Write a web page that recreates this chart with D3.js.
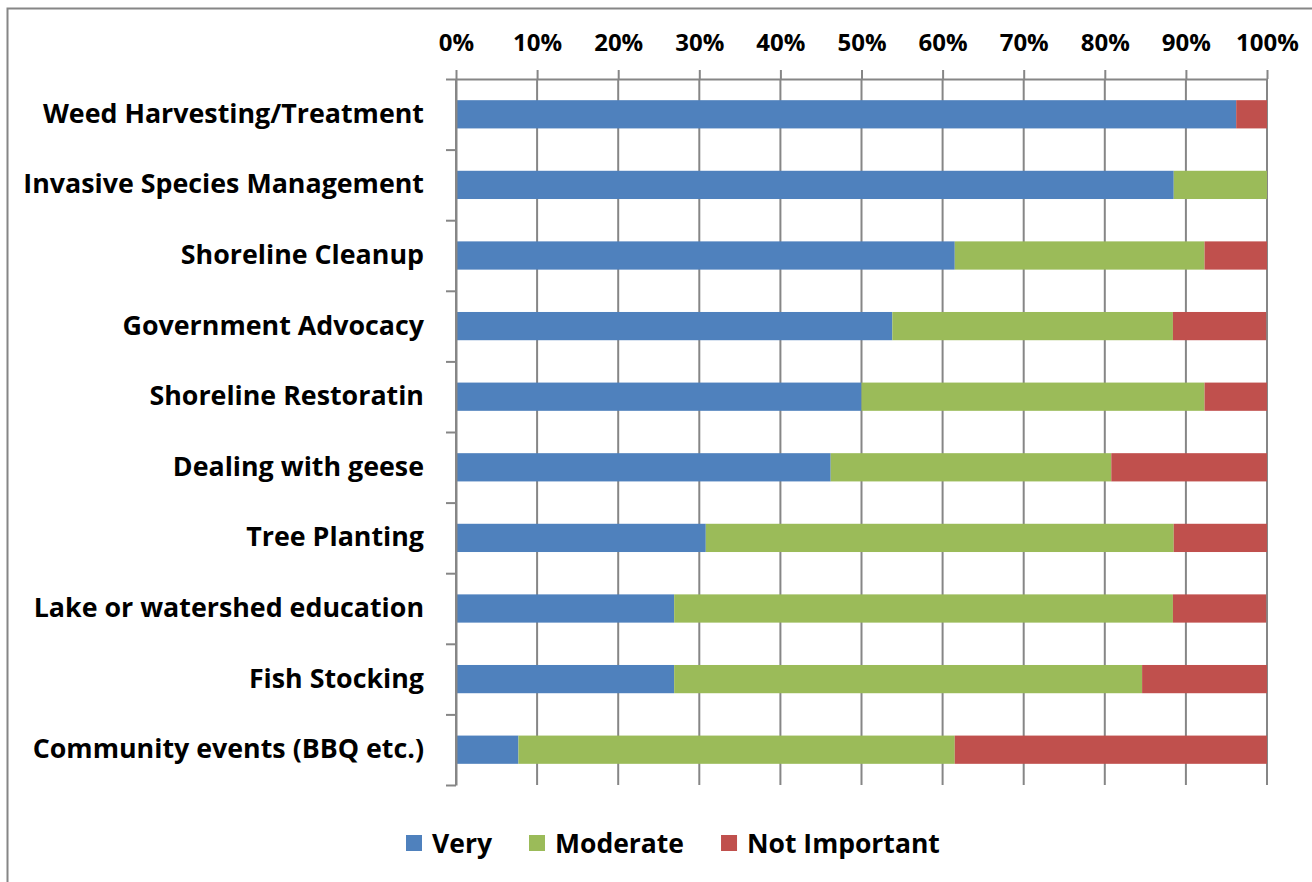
<!DOCTYPE html>
<html>
<head>
<meta charset="utf-8">
<script src="https://cdn.jsdelivr.net/npm/d3@7"></script>
<style>
  html, body { margin: 0; padding: 0; background: #fff; }
  svg { display: block; font-family: "Open Sans", Lato, sans-serif; font-weight: bold; }
</style>
</head>
<body>
<svg id="chart" width="1312" height="882"></svg>
<script>
var categories = [
  'Weed Harvesting/Treatment',
  'Invasive Species Management',
  'Shoreline Cleanup',
  'Government Advocacy',
  'Shoreline Restoratin',
  'Dealing with geese',
  'Tree Planting',
  'Lake or watershed education',
  'Fish Stocking',
  'Community events (BBQ etc.)'
];
var very = [96.2, 88.5, 61.5, 53.8, 50.0, 46.2, 30.8, 26.9, 26.9, 7.7];
var moderate = [0, 11.5, 30.8, 34.6, 42.3, 34.6, 57.7, 61.5, 57.7, 53.8];
var notImportant = [3.8, 0, 7.7, 11.5, 7.7, 19.2, 11.5, 11.5, 15.4, 38.5];
var seriesNames = ['Very', 'Moderate', 'Not Important'];
var tickValues = [0, 10, 20, 30, 40, 50, 60, 70, 80, 90, 100];

(function (d3) {
  var width = 1312;
  var height = 882;
  var margin = {top: 79, right: 45, bottom: 97, left: 456};
  var gray = '#868686';
  var colors = ['#4F81BD', '#9BBB59', '#C0504D'];
  var font = '"Open Sans", Lato, sans-serif';

  var rows = categories.map((c, i) => ({
    name: c,
    'Very': very[i],
    'Moderate': moderate[i],
    'Not Important': notImportant[i]
  }));
  var stacked = d3.stack().keys(seriesNames)(rows);

  var x = d3.scaleLinear()
    .domain([0, 100])
    .range([margin.left, width - margin.right]);

  var y = d3.scaleBand()
    .domain(categories)
    .range([margin.top, height - margin.bottom])
    .paddingInner(0.6)
    .paddingOuter(0.3);

  // boundaries between categories, for the little ticks on the left axis
  var yEdge = d3.scaleLinear()
    .domain([0, categories.length])
    .range([margin.top, height - margin.bottom]);

  var color = d3.scaleOrdinal().domain(seriesNames).range(colors);

  var svg = d3.select('#chart');

  svg.append('rect')
    .attr('x', 7.5)
    .attr('y', 8.5)
    .attr('width', 1320)
    .attr('height', 900)
    .attr('fill', '#fff')
    .attr('stroke', gray)
    .attr('stroke-width', 2);

  // vertical gridlines
  svg.append('g')
    .selectAll('line')
    .data(tickValues)
    .enter().append('line')
    .attr('x1', d => x(d))
    .attr('x2', d => x(d))
    .attr('y1', margin.top)
    .attr('y2', height - margin.bottom)
    .attr('stroke', gray)
    .attr('stroke-width', 2);

  svg.append('g')
    .selectAll('g')
    .data(stacked)
    .enter().append('g')
    .attr('fill', d => color(d.key))
    .selectAll('rect')
    .data(d => d)
    .enter().append('rect')
    .attr('x', d => x(d[0]))
    .attr('width', d => x(d[1]) - x(d[0]))
    .attr('y', d => y(d.data.name))
    .attr('height', y.bandwidth());

  var xAxis = g => g
    .attr('transform', `translate(0,${margin.top})`)
    .call(d3.axisTop(x).tickValues(tickValues).tickFormat(d => d + '%')
      .tickSizeInner(9).tickSizeOuter(0).tickPadding(19))
    .call(g => g.select('.domain').attr('stroke', gray).attr('stroke-width', 2))
    .call(g => g.selectAll('.tick line').attr('stroke', gray).attr('stroke-width', 2))
    .call(g => g.selectAll('.tick text')
      .attr('fill', '#000')
      .attr('font-size', 24)
      .attr('font-weight', 'bold')
      .attr('font-family', font));

  var yTicks = g => g
    .attr('transform', `translate(${margin.left},0)`)
    .call(d3.axisLeft(yEdge).tickValues(d3.range(categories.length + 1))
      .tickFormat('').tickSizeInner(10).tickSizeOuter(0))
    .call(g => g.select('.domain').attr('stroke', gray).attr('stroke-width', 2))
    .call(g => g.selectAll('.tick line').attr('stroke', gray).attr('stroke-width', 2));

  var yLabels = g => g
    .attr('transform', `translate(${margin.left},0)`)
    .call(d3.axisLeft(y).tickSize(0).tickPadding(32))
    .call(g => g.select('.domain').remove())
    .call(g => g.selectAll('.tick text')
      .attr('fill', '#000')
      .attr('font-size', 26.8)
      .attr('font-weight', 'bold')
      .attr('font-family', font));

  svg.append('g').call(yTicks);
  svg.append('g').call(xAxis);
  svg.append('g').call(yLabels);

  // legend laid out left to right by measured text width
  var legend = svg.append('g')
    .attr('transform', 'translate(406,843)');
  var offset = 0;
  seriesNames.forEach(name => {
    var item = legend.append('g').attr('transform', `translate(${offset},0)`);
    item.append('rect')
      .attr('x', 0)
      .attr('y', -8)
      .attr('width', 16)
      .attr('height', 16)
      .attr('fill', color(name));
    var t = item.append('text')
      .attr('x', 26)
      .attr('dy', '0.36em')
      .attr('font-size', 26.5)
      .attr('fill', '#000')
      .text(name);
    offset += 26 + t.node().getComputedTextLength() + 37;
  });
}(d3));
</script>
</body>
</html>
